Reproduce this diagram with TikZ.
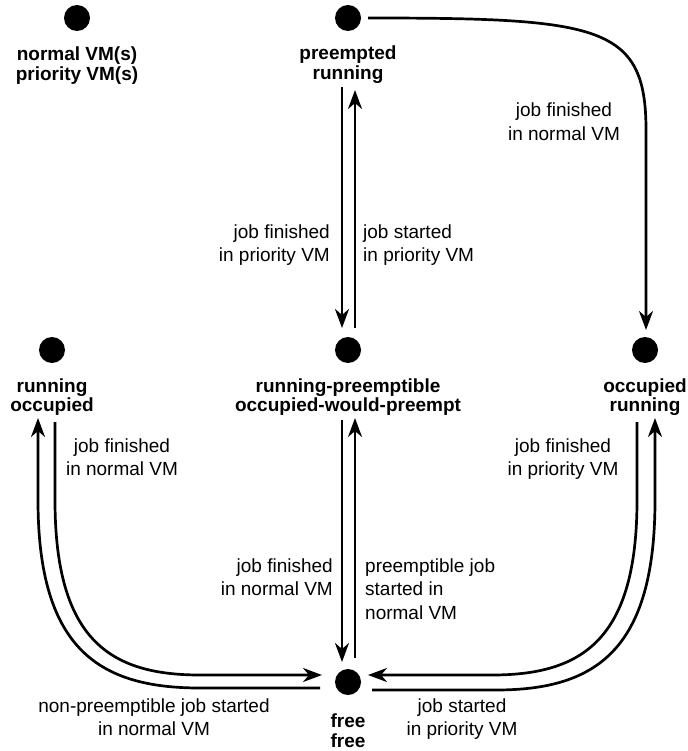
\documentclass[tikz,border=0pt]{standalone}
\usepackage{fontspec}
\setmainfont{Liberation Sans}
\usetikzlibrary{arrows.meta,calc}
\tikzset{
  statedot/.style={circle,fill=black,minimum size=26pt,inner sep=0pt},
  blab/.style={font=\fontsize{19}{19.5}\selectfont\bfseries,align=center,inner sep=0pt},
  tlab/.style={font=\fontsize{19}{23.5}\selectfont,inner sep=0pt},
  arr/.style={line width=2.7pt,-{Stealth[length=19pt,width=14pt,inset=6pt]}},
}
\begin{document}
\begin{tikzpicture}[x=1pt,y=-1pt]
\useasboundingbox (0,0) rectangle (687,751);
% dots
\node[statedot] (d0) at (77,18) {};
\node[statedot] (d1) at (348,18) {};
\node[statedot] (d2) at (52,350) {};
\node[statedot] (d3) at (348,350) {};
\node[statedot] (d4) at (645,350) {};
\node[statedot] (d5) at (348,682) {};
% bold labels (anchor=base is the last line's baseline)
\node[blab,anchor=base] (l0) at (77,80.5) {normal VM(s)\\priority VM(s)};
\node[blab,anchor=base] (l1) at (348,79.5) {preempted\\running};
\node[blab,anchor=base] (l2) at (52,411.5) {running\\occupied};
\node[blab,anchor=base] (l3) at (348,411.5) {running-preemptible\\occupied-would-preempt};
\node[blab,anchor=base] (l4) at (645,411.5) {occupied\\running};
\node[blab,anchor=base] (l5) at (348,747) {free\\free};
% connectors
\draw[arr] ($(d1)+(-6,69)$) -- ($(d3)+(-6,-22)$);
\draw[arr] ($(d3)+(7,-22)$) -- ($(d1)+(7,72)$);
\draw[arr] ($(d3)+(-6,70)$) -- ($(d5)+(-6,-20)$);
\draw[arr] ($(d5)+(7,-24)$) -- ($(d3)+(7,68)$);
\draw[arr] ($(d1)+(20,0)$) .. controls (600,18) and (646,25) .. (646,130) -- ($(d4)+(1,-20)$);
\draw[arr] ($(d5)+(-28,6)$) -- (200,688) .. controls (100,688) and (38,650) .. (38,500) -- ($(d2)+(-14,68)$);
\draw[arr] ($(d2)+(3,72)$) -- (55,500) .. controls (55,640) and (110,675) .. (200,675) -- ($(d5)+(-26,-7)$);
\draw[arr] ($(d5)+(24,8)$) -- (496,690) .. controls (596,690) and (655,650) .. (655,500) -- ($(d4)+(10,68)$);
\draw[arr] ($(d4)+(-8,72)$) -- (637,500) .. controls (637,640) and (582,675) .. (492,675) -- ($(d5)+(20,-7)$);
% plain labels
\node[tlab,align=right,anchor=base east] (t1) at (330,261.5) {job finished\\in priority VM};
\node[tlab,align=left,anchor=base west] (t2) at (363,261.5) {job started\\in priority VM};
\node[tlab,align=center,anchor=base] (t3) at (564,140.5) {job finished\\in normal VM};
\node[tlab,align=center,anchor=base] (t4) at (122,475.5) {job finished\\in normal VM};
\node[tlab,align=right,anchor=base east] (t5) at (333,595.5) {job finished\\in normal VM};
\node[tlab,align=left,anchor=base west] (t6) at (365,619) {preemptible job\\started in\\normal VM};
\node[tlab,align=center,anchor=base] (t7) at (563,475.5) {job finished\\in priority VM};
\node[tlab,align=center,anchor=base] (t8) at (154,735.5) {non-preemptible job started\\in normal VM};
\node[tlab,align=center,anchor=base] (t9) at (462,735.5) {job started\\in priority VM};
\end{tikzpicture}
\end{document}
